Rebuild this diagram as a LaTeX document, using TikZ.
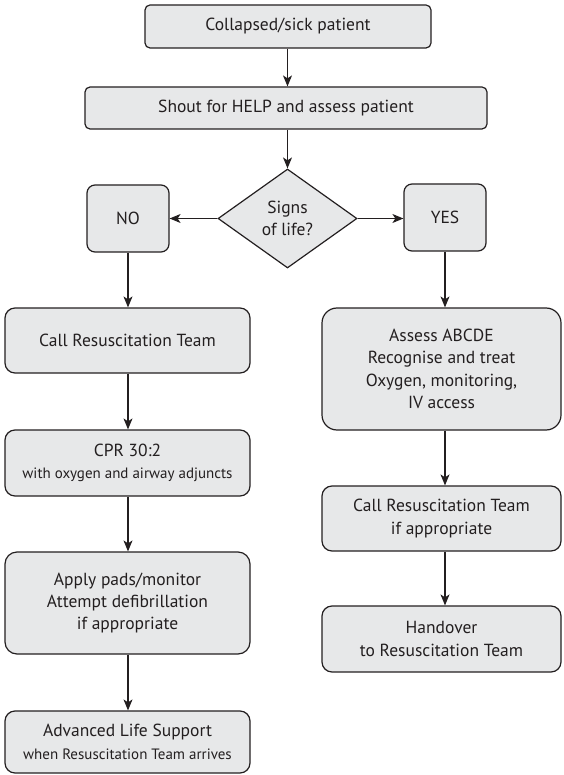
\documentclass[tikz,border=0pt]{standalone}
\usepackage{fontspec}
\setmainfont{PT Sans}
\usetikzlibrary{arrows.meta,shapes.geometric}
\definecolor{boxfill}{HTML}{E7E8E9}
\definecolor{boxline}{HTML}{231F20}
\tikzset{
  flowbox/.style={draw=boxline, fill=boxfill, line width=1.2pt, inner sep=0pt,
    align=center, font=\fontsize{17.5}{22.3}\selectfont, text=boxline},
  flowarrow/.style={draw=boxline, line width=1.1pt, -{Stealth[length=11pt,width=9pt,inset=3pt]}}
}
\newcommand{\smalltext}[1]{{\fontsize{15}{20}\selectfont #1}}
\begin{document}
\begin{tikzpicture}[x=1pt,y=-1pt]
\useasboundingbox (0,0) rectangle (563,775);
% top
\node[flowbox, rounded corners=5pt, minimum width=286pt, minimum height=43pt] (c1) at (288,26.5) {Collapsed/sick patient};
\node[flowbox, rounded corners=5pt, minimum width=402pt, minimum height=42pt] (c2) at (286,108) {Shout for HELP and assess patient};
\node[flowbox, diamond, shape aspect=1.4, minimum width=139pt, minimum height=99pt] (dia) at (287.5,218.5) {Signs\\of life?};
\node[flowbox, rounded corners=8pt, minimum width=82pt, minimum height=67pt] (no) at (128,218.5) {NO};
\node[flowbox, rounded corners=8pt, minimum width=82pt, minimum height=67pt] (yes) at (445,217.5) {YES};
% left column
\node[flowbox, rounded corners=10pt, minimum width=245pt, minimum height=65pt] (cr) at (127.5,340.5) {Call Resuscitation Team};
\node[flowbox, rounded corners=10pt, minimum width=245pt, minimum height=66pt] (cpr) at (127.5,463) {CPR 30:2\\\smalltext{with oxygen and airway adjuncts}};
\node[flowbox, rounded corners=12pt, minimum width=245pt, minimum height=102pt] (pads) at (127.5,603) {Apply pads/monitor\\Attempt defibrillation\\if appropriate};
\node[flowbox, rounded corners=10pt, minimum width=245pt, minimum height=62pt] (als) at (127.5,742) {Advanced Life Support\\\smalltext{when Resuscitation Team arrives}};
% right column
\node[flowbox, rounded corners=15pt, minimum width=239pt, minimum height=122pt] (ab) at (441.5,369) {Assess ABCDE\\Recognise and treat\\Oxygen, monitoring,\\IV access};
\node[flowbox, rounded corners=10pt, minimum width=239pt, minimum height=65pt] (cr2) at (441.5,518.5) {Call Resuscitation Team\\if appropriate};
\node[flowbox, rounded corners=10pt, minimum width=239pt, minimum height=66pt] (ho) at (441.5,639) {Handover\\to Resuscitation Team};
% connectors
\draw[flowarrow] (c1.south -| c2.north) ++(1.5,0) coordinate (t1) -- (t1 |- c2.north);
\draw[flowarrow] (c2.south -| dia.north) -- (dia.north);
\draw[flowarrow] (dia.west) -- (no.east);
\draw[flowarrow] (dia.east) -- (dia.east -| yes.west);
\draw[flowarrow] (no.south) -- (no.south |- cr.north);
\draw[flowarrow] (cr.south -| no.south) -- (no.south |- cpr.north);
\draw[flowarrow] (cpr.south -| no.south) -- (no.south |- pads.north);
\draw[flowarrow] (pads.south -| no.south) -- (no.south |- als.north);
\draw[flowarrow] (yes.south) -- (yes.south |- ab.north);
\draw[flowarrow] (ab.south -| yes.south) -- (yes.south |- cr2.north);
\draw[flowarrow] (cr2.south -| yes.south) -- (yes.south |- ho.north);
\end{tikzpicture}
\end{document}
